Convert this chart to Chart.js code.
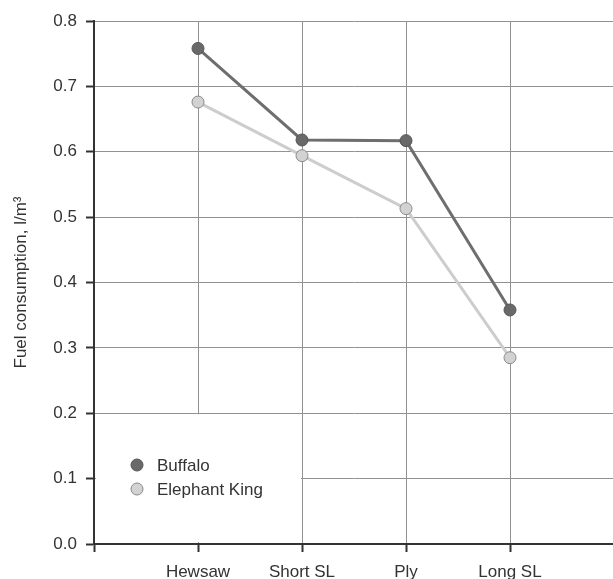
<!DOCTYPE html>
<html>
<head>
<meta charset="utf-8">
<script src="https://cdn.jsdelivr.net/npm/chart.js@4"></script>
<style>
  html, body { margin: 0; padding: 0; background: #fff; overflow: hidden; }
  #wrap { width: 621px; height: 579px; position: relative; }
</style>
</head>
<body>
<div id="wrap"><canvas id="myChart"></canvas></div>
<script>
// Categories and series values
const categories = ['Hewsaw', 'Short SL', 'Ply', 'Long SL'];
const buffalo = [0.758, 0.618, 0.617, 0.358];
const elephantKing = [0.676, 0.594, 0.513, 0.285];
const yMin = 0;
const yMax = 0.8;
const yStep = 0.1;

const fontFamily = "'Liberation Sans', Arial, sans-serif";
const textColor = '#333333';

// categories sit at x = 1..n, with an empty slot at each end
const toPoints = values => values.map((v, i) => ({ x: i + 1, y: v }));

// white box behind the legend, hides the grid in the lower left corner
const legendBox = {
    id: 'legendBox',
    beforeDatasetsDraw(chart) {
        const xs = chart.scales.x;
        const ys = chart.scales.y;
        const ctx = chart.ctx;
        const left = xs.getPixelForValue(0) + 2;
        const right = xs.getPixelForValue(2) - 1;
        const top = ys.getPixelForValue(0.2) + 1;
        const bottom = ys.getPixelForValue(0) - 2;
        ctx.save();
        ctx.fillStyle = '#ffffff';
        ctx.fillRect(left, top, right - left, bottom - top);
        ctx.restore();
    },
    afterDatasetsDraw(chart) {
        const ctx = chart.ctx;
        const area = chart.chartArea;
        const cx = area.left + 43;
        let cy = area.bottom - 79;
        ctx.save();
        ctx.font = '17px ' + fontFamily;
        ctx.textBaseline = 'middle';
        chart.data.datasets.forEach(ds => {
            ctx.beginPath();
            ctx.arc(cx, cy, 6, 0, Math.PI * 2);
            ctx.fillStyle = ds.pointBackgroundColor;
            ctx.fill();
            ctx.lineWidth = 1;
            ctx.strokeStyle = ds.pointBorderColor;
            ctx.stroke();
            ctx.fillStyle = textColor;
            ctx.fillText(ds.label, cx + 20, cy + 1);
            cy += 24;
        });
        ctx.restore();
    }
};

const ctx = document.getElementById('myChart').getContext('2d');

const chart = new Chart(ctx, {
    type: 'line',
    data: {
        datasets: [
            {
                label: 'Buffalo',
                data: toPoints(buffalo),
                borderColor: '#6e6e6e',
                borderWidth: 3,
                pointRadius: 6,
                pointBackgroundColor: '#696969',
                pointBorderColor: '#555555',
                pointBorderWidth: 1
            },
            {
                label: 'Elephant King',
                data: toPoints(elephantKing),
                borderColor: '#cdcdcd',
                borderWidth: 3,
                pointRadius: 6,
                pointBackgroundColor: '#d2d2d2',
                pointBorderColor: '#8a8a8a',
                pointBorderWidth: 1
            }
        ]
    },
    options: {
        responsive: true,
        maintainAspectRatio: false,
        animation: false,
        layout: { padding: { top: 21, right: 0, left: 0, bottom: 0 } },
        plugins: {
            legend: { display: false },
            tooltip: { enabled: false }
        },
        scales: {
            x: {
                type: 'linear',
                min: 0,
                max: categories.length + 1,
                afterFit(scale) {
                    scale.height = 35;
                    scale.paddingRight = 0;
                    scale.paddingLeft = 0;
                },
                ticks: {
                    stepSize: 1,
                    autoSkip: false,
                    maxRotation: 0,
                    padding: 10,
                    color: textColor,
                    font: { family: fontFamily, size: 17 },
                    callback: v => categories[v - 1] || ''
                },
                grid: {
                    color: '#929292',
                    lineWidth: 1,
                    tickColor: '#333333',
                    tickWidth: 2,
                    tickLength: 8
                },
                border: { color: '#333333', width: 2 }
            },
            y: {
                min: yMin,
                max: yMax,
                afterFit(scale) { scale.width = 94; },
                ticks: {
                    stepSize: yStep,
                    padding: 9,
                    color: textColor,
                    font: { family: fontFamily, size: 17 },
                    callback: v => v.toFixed(1)
                },
                grid: {
                    color: '#929292',
                    lineWidth: 1,
                    tickColor: '#333333',
                    tickWidth: 2,
                    tickLength: 8
                },
                border: { color: '#333333', width: 2 },
                title: {
                    display: true,
                    text: 'Fuel consumption, l/m³',
                    color: textColor,
                    font: { family: fontFamily, size: 17 },
                    padding: { top: 11, bottom: 0 }
                }
            }
        }
    },
    plugins: [legendBox]
});
</script>
</body>
</html>
